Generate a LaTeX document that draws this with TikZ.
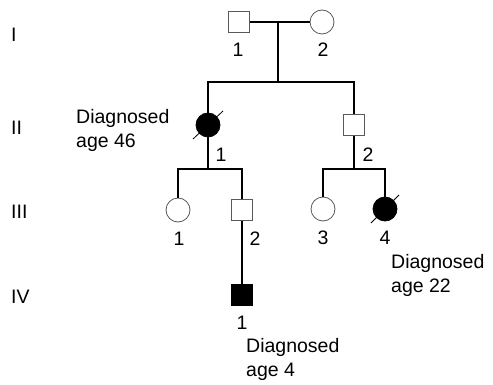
\documentclass[tikz,border=0pt]{standalone}
\usepackage{fontspec}
\setmainfont{Liberation Sans}
\usetikzlibrary{positioning}

\begin{document}
\begin{tikzpicture}[x=1pt, y=-1pt,
  male/.style={rectangle, draw=black!65, line width=0.8pt, fill=white, minimum size=21pt, inner sep=0pt},
  female/.style={circle, draw=black!65, line width=0.8pt, fill=white, minimum size=24pt, inner sep=0pt},
  affected/.style={fill=black, draw=black},
  txt/.style={font=\fontsize{19.5}{24}\selectfont, inner sep=0pt},
  note/.style={txt, align=left, anchor=west},
  gen/.style={txt, anchor=west},
  link/.style={line width=1.4pt},
  slash/.style={line width=0.8pt}]
  \useasboundingbox (0,0) rectangle (493,385);

  % generations
  \node[gen] (gI)   at (11,35)  {I};
  \node[gen] (gII)  at (11,128) {II};
  \node[gen] (gIII) at (11,212) {III};
  \node[gen] (gIV)  at (11,297) {IV};

  % individuals
  \node[male]            (I1)   at (239,22)  {};
  \node[female]          (I2)   at (322,22)  {};
  \node[female,affected] (II1)  at (208,125) {};
  \node[male]            (II2)  at (354,125) {};
  \node[female]          (III1) at (178,210) {};
  \node[male]            (III2) at (242,210) {};
  \node[female]          (III3) at (323,209) {};
  \node[female,affected] (III4) at (385,209) {};
  \node[male,affected]   (IV1)  at (242,295) {};

  % numbers
  \node[txt] (nI1)   at (238,50)  {1};
  \node[txt] (nI2)   at (323,50)  {2};
  \node[txt] (nII1)  at (221,155) {1};
  \node[txt] (nII2)  at (368,155) {2};
  \node[txt] (nIII1) at (179,239) {1};
  \node[txt] (nIII2) at (255,239) {2};
  \node[txt] (nIII3) at (323,238) {3};
  \node[txt] (nIII4) at (385,238) {4};
  \node[txt] (nIV1)  at (242,323) {1};

  % notes
  \node[note] (dII1)  at (76,130)  {Diagnosed\\age 46};
  \node[note] (dIII4) at (391,275) {Diagnosed\\age 22};
  \node[note] (dIV1)  at (246,359) {Diagnosed\\age 4};

  % lines of descent
  \coordinate (mI)   at (278,22);
  \coordinate (sI)   at (278,82);
  \coordinate (sII1) at (208,169);
  \coordinate (sII2) at (354,169);

  \draw[link] (I1) -- (I2);
  \draw[link] (mI) -- (sI);
  \draw[link] (II1) |- (sI) -| (II2);
  \draw[link] (II1) -- (sII1);
  \draw[link] (III1) |- (sII1) -| (III2);
  \draw[link] (II2) -- (sII2);
  \draw[link] (III3) |- (sII2) -| (III4);
  \draw[link] (III2) -- (IV1);

  % deceased
  \draw[slash] (II1.center) ++(-15,14) -- ++(30,-28);
  \draw[slash] (III4.center) ++(-14,14) -- ++(28,-28);
\end{tikzpicture}
\end{document}
